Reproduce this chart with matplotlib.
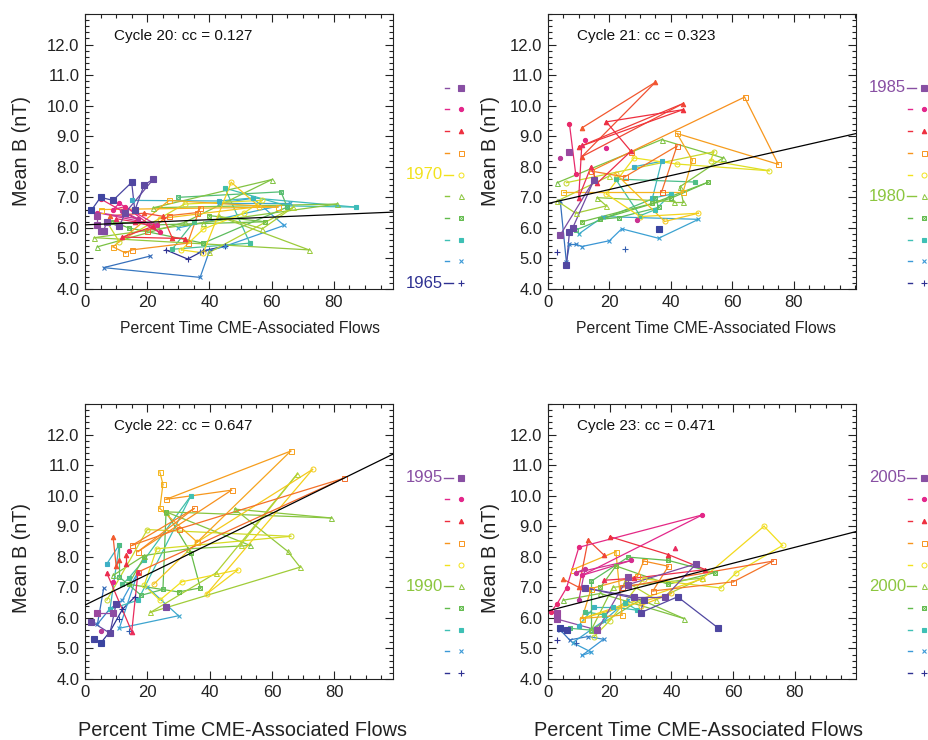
import numpy as np
import matplotlib
matplotlib.use('Agg')
import matplotlib.pyplot as plt
from matplotlib.colors import LinearSegmentedColormap
from matplotlib.ticker import MultipleLocator, FormatStrFormatter

plt.rcParams['font.family'] = ['Liberation Sans', 'DejaVu Sans']
nan = np.nan

# ---------------- data ----------------
cycle_titles = ['Cycle 20: cc = 0.127', 'Cycle 21: cc = 0.323',
                'Cycle 22: cc = 0.647', 'Cycle 23: cc = 0.471']
cycle_first_year = [1965, 1976, 1986, 1996]
labeled_years = [[1965, 1970], [1980, 1985], [1990, 1995], [2000, 2005]]
fit_intercept = [6.10, 6.80, 6.42, 6.23]
fit_slope = [0.0042, 0.0228, 0.0500, 0.0260]
x_ticks = [0, 20, 40, 60, 80]
y_ticks = [4, 5, 6, 7, 8, 9, 10, 11, 12]

# Cycle 20 (1965 ... 1974), one list per year
c20_x = [
    [26, 33, 38, 45, 40, 37],
    [21, 6, 37, 40, 45, 64, 54, 43, 66, 30],
    [15, 43, 54, 87, 65, 45, 53, 28, 35],
    [30, 63, 65, 38, 14, 9, 23, 58, 40],
    [4, 32, 60, 22, 81, 38, 3, 72, 43, 57, 67, 40],
    [7, 11, 32, 57, 51, 38, 31, 38, 47, 56, 24],
    [5, 62, 27, 9, 13, 15, 33, 37, 36, 27, 20],
    [8, 19, 25, 28, 32, 12, 22, 16, 10],
    [5, 24, 13, 9, 11, 23, 4, 17, 12],
    [4, 4, 5, 6, 7, 11, 13, 22, 19, 16, 15, 9, 5, 2],
]
c20_y = [
    [5.28, 4.98, 5.25, 5.40, 5.28, 5.22],
    [5.08, 4.70, 4.38, 5.25, 5.40, 6.08, 6.97, 6.80, 6.80, 6.00],
    [6.90, 6.88, 6.98, 6.68, 6.72, 7.30, 5.50, 5.30, 6.20],
    [7.00, 7.18, 6.68, 5.50, 6.00, 6.20, 6.10, 6.20, 6.40],
    [5.38, 6.18, 7.58, 6.66, 6.78, 6.17, 5.68, 5.28, 6.38, 5.97, 6.68, 5.20],
    [6.20, 5.55, 6.78, 6.90, 6.48, 5.96, 5.28, 5.18, 7.49, 6.70, 6.30],
    [6.60, 6.68, 6.90, 5.38, 5.18, 5.28, 5.50, 6.66, 6.50, 6.40, 5.90],
    [6.40, 6.48, 6.38, 5.68, 5.65, 5.70, 6.05, 6.20, 6.30],
    [6.95, 5.85, 6.70, 6.60, 6.80, 6.10, 6.50, 6.30, 6.55],
    [6.40, 6.10, 5.90, 5.90, 6.20, 6.05, 6.50, 7.60, 7.40, 6.57, 7.49, 6.90, 7.00, 6.57],
]

# Cycle 21 (1976 ... 1985)
c21_x = [
    [3, nan, 25],
    [4, 6, 7, 9, 11, 20, 24, 36, 49, 18, 10],
    [28, 37, 34, 40, 35, 30, 22, 48],
    [9, 35, 36, 23, 17, 40, 52, 34, 11],
    [3, 37, 57, 43, 44, 41, 16, 19, 9, 3, 20],
    [6, 54, 53, 72, 42, 28, 19, 30, 49, 38, 22],
    [5, 44, 47, 42, 75, 64, 27, 14, 25, 42, 37],
    [11, 35, 11, 44, 10, 44, 19, 27, 16, 14, 10, 11],
    [7, 9, nan, 12, nan, 19, nan, 29, nan, 4],
    [7, nan, 4, 15, 8, 7, 6, nan, 36],
]
c21_y = [
    [5.20, nan, 5.30],
    [6.88, 4.87, 5.47, 5.47, 5.39, 5.58, 5.97, 5.66, 6.28, 6.37, 5.80],
    [8.00, 8.18, 6.97, 7.10, 6.60, 6.40, 7.60, 7.50],
    [5.93, 6.99, 6.67, 6.34, 6.28, 6.97, 7.49, 6.80, 6.20],
    [7.48, 8.89, 8.29, 7.35, 6.86, 6.86, 6.99, 6.72, 6.48, 6.88, 7.70],
    [7.48, 8.49, 8.20, 7.87, 8.09, 8.29, 7.11, 6.37, 6.48, 6.21, 7.78],
    [7.18, 7.18, 8.22, 9.09, 8.08, 10.28, 8.49, 7.86, 7.67, 8.68, 7.18],
    [9.27, 10.77, 8.33, 10.07, 8.65, 9.87, 9.47, 8.51, 7.46, 8.00, 6.99, 8.70],
    [9.39, 7.78, nan, 8.89, nan, 8.60, nan, 6.26, nan, 8.30],
    [8.49, nan, 5.77, 7.57, 5.99, 5.88, 4.77, nan, 5.97],
]

# Cycle 22 (1986 ... 1995)
c22_x = [
    [5, 8, 12, 16, nan, 11, nan, 14],
    [6, 4, 8, 12, 17, 11, 30, 20],
    [7, 11, 8, 17, 34, 19, 14, 12],
    [11, 11, 18, 25, 26, 34, 37, 30, 14, 19],
    [9, 19, 33, 53, 26, 79, 48, 65, 69, 21, 42, 68, 50],
    [7, 20, 66, 23, 19, 24, 31, 49, 39, 73, 36, 22],
    [24, 25, 24, 36, 66, 26, 47, 17, 35, 15, 30, 83, 17],
    [9, 10, 11, nan, 13, 13, nan, 7, 15, 17],
    [14, nan, 9, nan, 5],
    [4, 9, nan, 26, nan, 2, 8, 10, nan, 3, 5],
]
c22_y = [
    [5.17, 5.55, 6.28, 6.69, nan, 5.96, nan, 5.58],
    [6.98, 5.80, 6.30, 6.58, 7.50, 5.66, 6.07, 7.00],
    [7.77, 8.39, 6.28, 6.58, 10.00, 7.90, 7.30, 7.10],
    [8.39, 7.34, 6.74, 6.93, 9.47, 8.12, 6.98, 6.85, 7.10, 8.00],
    [7.39, 8.04, 8.26, 8.37, 9.47, 9.27, 9.56, 8.18, 7.66, 6.18, 7.47, 10.70, 8.40],
    [6.58, 8.89, 8.67, 8.26, 7.07, 6.58, 7.18, 7.57, 6.78, 10.86, 8.48, 7.10],
    [10.78, 10.37, 9.58, 8.48, 11.46, 9.88, 10.18, 8.17, 9.58, 8.37, 8.91, 10.57, 7.50],
    [8.66, 7.69, 7.88, nan, 8.07, 7.77, nan, 7.47, 5.55, 7.50],
    [8.18, nan, 7.18, nan, 5.58],
    [6.17, 6.17, nan, 6.36, nan, 5.88, 5.50, 6.47, nan, 5.30, 5.17],
]

# Cycle 23 (1996 ... 2005)
c23_x = [
    [3, nan, 9],
    [4, 7, 13, 18, 11, 14, 8, 18, 26],
    [10, 15, 21, 29, 25, 18, 12],
    [7, 14, 14, 26, 39, 54, 39, 22, 17],
    [5, 17, 44, 30, 14, 21, 50, 35, 25],
    [15, 20, 31, 56, 61, 76, 70, 50, 11, 40, 30],
    [8, 22, 24, 11, 14, 29, 31, 39, 34, 60, 73, 24],
    [5, 10, 13, 18, nan, 20, 39, 51, 28, 18, nan, 41],
    [1, 3, 6, 10, 50, 11, 27, 9, 12, 10],
    [3, 3, 16, 26, 26, 48, 38, 28, 12, 31, 30, 42, 55, nan, 6, 4],
]
c23_y = [
    [5.28, nan, 5.17],
    [5.60, 5.28, 5.39, 5.30, 4.77, 4.88, 5.19, 5.90, 6.60],
    [5.75, 6.36, 6.36, 6.25, 6.50, 6.10, 6.20],
    [5.66, 5.60, 7.20, 7.99, 7.88, 7.48, 7.10, 7.70, 7.00],
    [6.58, 6.80, 5.98, 6.60, 5.60, 7.00, 7.30, 6.60, 7.20],
    [5.39, 5.91, 7.28, 6.98, 7.48, 8.37, 9.00, 7.28, 5.98, 6.80, 6.40],
    [7.58, 8.17, 6.09, 5.98, 6.96, 7.37, 7.86, 7.69, 6.88, 7.18, 7.86, 7.00],
    [7.26, 7.00, 8.55, 8.07, nan, 8.66, 8.07, 7.58, 7.30, 7.23, nan, 8.28],
    [6.20, 6.47, 6.98, 8.31, 9.37, 7.39, 7.88, 7.48, 7.60, 6.58],
    [6.17, 5.96, 5.60, 7.34, 7.09, 7.77, 6.69, 6.69, 6.98, 6.58, 6.17, 6.69, 5.68, nan, 5.60, 5.68],
]

all_x = [c20_x, c21_x, c22_x, c23_x]
all_y = [c20_y, c21_y, c22_y, c23_y]

# ---------------- styles ----------------
color_anchors = ['#2E3192', '#3B9BD8', '#3EC0B5', '#62BB4A', '#8CC63F', '#F2E41C',
                 '#F7941D', '#EE2E3C', '#E3278B', '#8A4FA3', '#3A44A0']
cmap = LinearSegmentedColormap.from_list('cyc', color_anchors)
# marker, size, filled
marker_styles = [('+', 3.8, True), ('x', 3.2, True), ('s', 2.6, True), ('sx', 3.2, False),
                 ('^', 3.6, False), ('o', 3.6, False), ('s', 3.6, False),
                 ('^', 3.2, True), ('o', 3.0, True), ('s', 3.8, True)]


def col(t):
    return cmap(np.clip(t, 0, 10) / 10.0)


def draw_marker(ax, x, y, idx, c, zorder=3):
    m, ms, filled = marker_styles[idx]
    if m == 'sx':
        ax.plot(x, y, 's', ms=ms, mfc='none', mec=c, mew=0.7, zorder=zorder, clip_on=False)
        ax.plot(x, y, 'x', ms=ms * 0.8, mec=c, mew=0.6, zorder=zorder, clip_on=False)
    elif filled:
        ax.plot(x, y, m, ms=ms, mfc=c, mec=c, mew=0.8, zorder=zorder, clip_on=False)
    else:
        ax.plot(x, y, m, ms=ms, mfc='none', mec=c, mew=0.7, zorder=zorder, clip_on=False)


W, H = 929, 740
fig = plt.figure(figsize=(W / 100, H / 100), dpi=100)

ax_w, ax_h = 308, 275
ax_left_px = [85, 548, 85, 548]
ax_bot_px = [289, 289, 679, 679]
x_max = [99, 100.3, 98.8, 99.8]
xlabel_size = [11.3, 11.3, 14.3, 14.3]
xlabel_y = [-0.145, -0.145, -0.189, -0.189]
xlabel_dx = [0.035, 0.013, 0.01, -0.01]
ylabel_x = [-0.205, -0.188, -0.205, -0.188]
ylabel_y = [0.5, 0.5, 0.44, 0.44]

overlay = fig.add_axes([0, 0, 1, 1])
overlay.set_xlim(0, W)
overlay.set_ylim(H, 0)
overlay.axis('off')
overlay.patch.set_alpha(0)

for p in range(4):
    L, B = ax_left_px[p], ax_bot_px[p]
    ax = fig.add_axes([L / W, (H - B) / H, ax_w / W, ax_h / H])
    ax.set_xlim(0, x_max[p])
    ax.set_ylim(4, 13)
    for i in range(10):
        xs = np.array(all_x[p][i], dtype=float)
        ys = np.array(all_y[p][i], dtype=float)
        n = len(xs)
        if i == 9:
            ts = 8.8 + 1.2 * np.arange(n) / max(n - 1, 1)
        else:
            ts = i - 0.45 + 0.9 * np.arange(n) / max(n - 1, 1)
        for k in range(n - 1):
            if np.isfinite(xs[k]) and np.isfinite(xs[k + 1]):
                ax.plot(xs[k:k + 2], ys[k:k + 2], color=col(0.5 * (ts[k] + ts[k + 1])),
                        lw=0.9, zorder=2)
        for k in range(n):
            if np.isfinite(xs[k]):
                draw_marker(ax, xs[k], ys[k], i, col(ts[k]))
    xx = np.array([0, x_max[p]])
    ax.plot(xx, fit_intercept[p] + fit_slope[p] * xx, color='black', lw=0.9, zorder=4)

    ax.xaxis.set_major_locator(plt.FixedLocator(x_ticks))
    ax.yaxis.set_major_locator(plt.FixedLocator(y_ticks))
    ax.xaxis.set_minor_locator(MultipleLocator(5))
    ax.yaxis.set_minor_locator(MultipleLocator(0.2))
    ax.yaxis.set_major_formatter(FormatStrFormatter('%.1f'))
    ax.tick_params(which='both', direction='in', top=True, right=True, width=0.8,
                   labelsize=12, colors='#222222')
    ax.tick_params(which='major', length=6, pad=4)
    ax.tick_params(which='minor', length=3)
    for s in ax.spines.values():
        s.set_linewidth(0.8)
        s.set_color('#222222')
    ax.text(0.094, 0.92, cycle_titles[p], transform=ax.transAxes, fontsize=11,
            va='center', ha='left', color='#111111')
    ax.text(0.5 + xlabel_dx[p], xlabel_y[p], 'Percent Time CME-Associated Flows',
            transform=ax.transAxes, fontsize=xlabel_size[p], ha='center', va='center',
            color='#222222')
    ax.text(ylabel_x[p], ylabel_y[p], 'Mean B (nT)', transform=ax.transAxes,
            fontsize=14.2, rotation=90, ha='center', va='center', color='#222222')

    # colour key to the right of the panel
    R = L + ax_w
    for i in range(10):
        yr = cycle_first_year[p] + i
        ypx = B - 6 - i * 21.7
        c = col(i)
        if yr in labeled_years[p]:
            overlay.plot([R + 51, R + 60], [ypx, ypx], color=c, lw=1.0)
            overlay.text(R + 50, ypx, str(yr), color=c, fontsize=12, ha='right',
                         va='center')
        else:
            overlay.plot([R + 52, R + 56], [ypx, ypx], color=c, lw=1.0)
        draw_marker(overlay, R + 68, ypx, i, c)

fig.savefig('out.png', dpi=100)
